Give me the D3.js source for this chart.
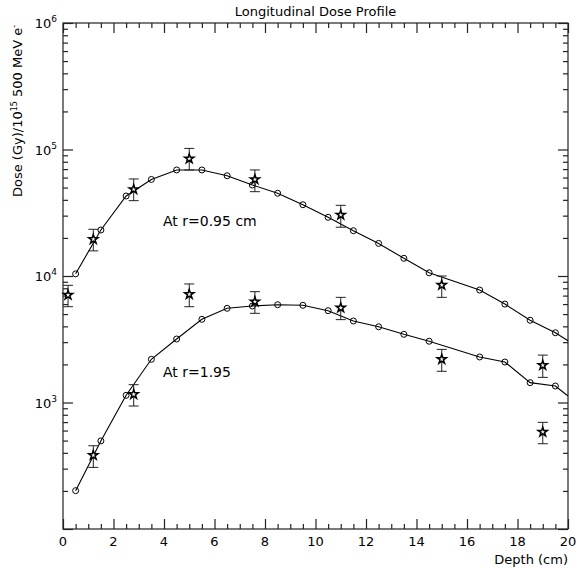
<!DOCTYPE html>
<html>
<head>
<meta charset="utf-8">
<script src="https://cdn.jsdelivr.net/npm/d3@7"></script>
<style>
  body { margin: 0; background: #fff; }
  text { font-family: "DejaVu Sans", sans-serif; fill: #000; }
</style>
</head>
<body>
<svg id="chart" width="576" height="569"></svg>
<script>
// calculated dose (circles + line)
const depthCalc = [0.5, 1.5, 2.5, 3.5, 4.5, 5.5, 6.5, 7.5, 8.5, 9.5, 10.5, 11.5, 12.5, 13.5, 14.5, 16.5, 17.5, 18.5, 19.5];
const doseCalc095 = [10400, 23100, 42900, 58000, 68900, 68900, 62000, 52400, 45100, 36600, 29100, 22800, 18100, 13800, 10600, 7750, 6000, 4470, 3560];
const doseCalc195 = [201, 497, 1140, 2195, 3177, 4547, 5555, 5795, 5930, 5865, 5320, 4410, 3970, 3460, 3050, 2290, 2090, 1435, 1350];
// line continues to the edge of the plot
const depthEnd = 20;
const doseEnd095 = 3080;
const doseEnd195 = 1125;

// measured dose (stars with error bars)
const depthMeas095 = [0.2, 1.2, 2.8, 5, 7.6, 11, 15, 19];
const doseMeas095 = [7080, 19500, 48400, 84600, 58000, 30400, 8490, 1970];
const errLo095 = [5720, 15800, 39400, 68900, 46400, 24300, 6780, 1580];
const errHi095 = [8440, 23400, 58500, 102000, 68900, 36200, 10000, 2370];

const depthMeas195 = [1.2, 2.8, 5, 7.6, 11, 15, 19];
const doseMeas195 = [383, 1160, 7170, 6270, 5610, 2195, 585];
const errLo195 = [307, 938, 5720, 5070, 4520, 1765, 472];
const errHi195 = [455, 1383, 8650, 7520, 6780, 2630, 697];

const xMajor = [0, 2, 4, 6, 8, 10, 12, 14, 16, 18, 20];
const yMajor = [1e3, 1e4, 1e5, 1e6];
const yExp = ["3", "4", "5", "6"];

const svg = d3.select("#chart");
const margin = { top: 23, right: 8, bottom: 40, left: 63 };
const W = 576, H = 569;

const x = d3.scaleLinear().domain([0, 20]).range([margin.left, W - margin.right]);
const y = d3.scaleLog().domain([1e2, 1e6]).range([H - margin.bottom, margin.top]);

const xMinor = d3.range(0, 20.01, 0.5).filter(v => v % 2 !== 0);
const yMinor = [];
for (let e = 2; e < 6; e++) for (let m = 2; m <= 9; m++) yMinor.push(m * Math.pow(10, e));

const axisColor = "#222";

// frame
svg.append("rect")
  .attr("x", x(0)).attr("y", y(1e6))
  .attr("width", x(20) - x(0)).attr("height", y(1e2) - y(1e6))
  .attr("fill", "none").attr("stroke", axisColor).attr("stroke-width", 1.2);

function ticks(axisFn, pos, values, size) {
  const g = svg.append("g").attr("transform", pos)
    .call(axisFn.tickValues(values).tickSize(size).tickFormat(""));
  g.select(".domain").remove();
  g.selectAll("line").attr("stroke", axisColor).attr("stroke-width", 1.2);
  return g;
}

// x ticks, bottom and top (pointing inward)
ticks(d3.axisBottom(x), `translate(0,${y(1e2)})`, xMajor, -10);
ticks(d3.axisBottom(x), `translate(0,${y(1e2)})`, xMinor, -5);
ticks(d3.axisTop(x), `translate(0,${y(1e6)})`, xMajor, -10);
ticks(d3.axisTop(x), `translate(0,${y(1e6)})`, xMinor, -5);
// y ticks, left and right
ticks(d3.axisLeft(y), `translate(${x(0)},0)`, yMajor.concat([1e2]), -10);
ticks(d3.axisLeft(y), `translate(${x(0)},0)`, yMinor, -5);
ticks(d3.axisRight(y), `translate(${x(20)},0)`, yMajor.concat([1e2]), -10);
ticks(d3.axisRight(y), `translate(${x(20)},0)`, yMinor, -5);

// x tick labels
svg.append("g").selectAll("text").data(xMajor).join("text")
  .attr("x", d => x(d)).attr("y", y(1e2) + 17)
  .attr("text-anchor", "middle").attr("font-size", 13)
  .text(d => d);

// y tick labels with exponent
const yl = svg.append("g").selectAll("text").data(yMajor).join("text")
  .attr("x", x(0) - 6).attr("y", d => y(d) + 5)
  .attr("text-anchor", "end").attr("font-size", 13);
yl.append("tspan").text("10");
yl.append("tspan").attr("font-size", 9).attr("dy", -6).text((d, i) => yExp[i]);

// titles
svg.append("text").attr("x", (x(0) + x(20)) / 2).attr("y", 16)
  .attr("text-anchor", "middle").attr("font-size", 13)
  .text("Longitudinal Dose Profile");

svg.append("text").attr("x", x(20)).attr("y", 564)
  .attr("text-anchor", "end").attr("font-size", 13)
  .text("Depth (cm)");

const ylab = svg.append("text")
  .attr("transform", "translate(22,197) rotate(-90)")
  .attr("font-size", 13);
ylab.append("tspan").text("Dose (Gy)/10");
ylab.append("tspan").attr("font-size", 8).attr("dy", -5).text("15");
ylab.append("tspan").attr("dy", 5).text(" 500 MeV e");
ylab.append("tspan").attr("font-size", 8).attr("dy", -5).text("-");

// annotations
svg.append("text").attr("x", 163).attr("y", 226).attr("font-size", 14).text("At r=0.95 cm");
svg.append("text").attr("x", 163).attr("y", 377).attr("font-size", 14).text("At r=1.95");

// calculated curves
const line = d3.line().x(d => x(d[0])).y(d => y(d[1]));
function curve(depths, doses, endDose) {
  const pts = depths.map((d, i) => [d, doses[i]]);
  svg.append("path").datum(pts.concat([[depthEnd, endDose]]))
    .attr("d", line).attr("fill", "none").attr("stroke", "#000").attr("stroke-width", 1.1);
  svg.append("g").selectAll("circle").data(pts).join("circle")
    .attr("cx", d => x(d[0])).attr("cy", d => y(d[1])).attr("r", 3)
    .attr("fill", "none").attr("stroke", "#000").attr("stroke-width", 1);
}
curve(depthCalc, doseCalc095, doseEnd095);
curve(depthCalc, doseCalc195, doseEnd195);

// measured points
const star = d3.symbol().type(d3.symbolStar).size(26);
function measured(depths, doses, lo, hi) {
  const g = svg.append("g").selectAll("g").data(depths).join("g");
  g.append("line")
    .attr("x1", d => x(d)).attr("x2", d => x(d))
    .attr("y1", (d, i) => y(lo[i])).attr("y2", (d, i) => y(hi[i]))
    .attr("stroke", axisColor).attr("stroke-width", 1);
  g.append("line")
    .attr("x1", d => x(d) - 5).attr("x2", d => x(d) + 5)
    .attr("y1", (d, i) => y(lo[i])).attr("y2", (d, i) => y(lo[i]))
    .attr("stroke", axisColor).attr("stroke-width", 1);
  g.append("line")
    .attr("x1", d => x(d) - 5).attr("x2", d => x(d) + 5)
    .attr("y1", (d, i) => y(hi[i])).attr("y2", (d, i) => y(hi[i]))
    .attr("stroke", axisColor).attr("stroke-width", 1);
  g.append("path")
    .attr("transform", (d, i) => `translate(${x(d)},${y(doses[i])})`)
    .attr("d", star).attr("fill", "#fff").attr("stroke", "#000").attr("stroke-width", 1.5);
}
measured(depthMeas095, doseMeas095, errLo095, errHi095);
measured(depthMeas195, doseMeas195, errLo195, errHi195);
</script>
</body>
</html>
